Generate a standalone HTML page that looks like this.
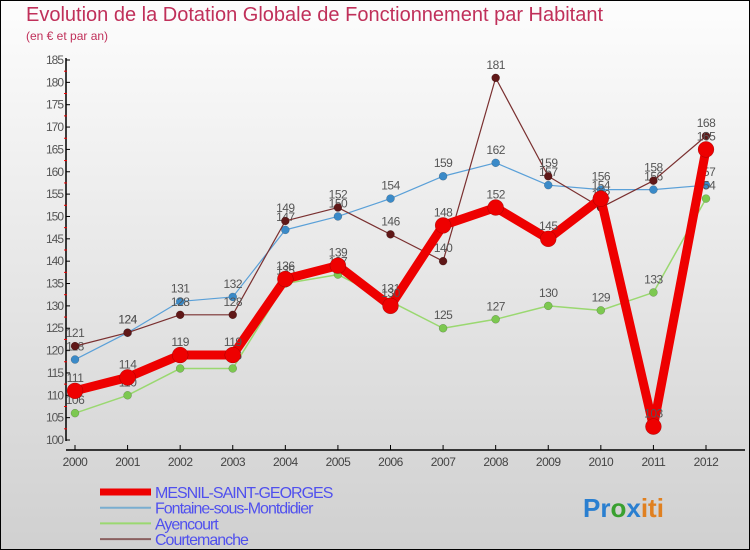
<!DOCTYPE html>
<html><head><meta charset="utf-8"><style>
body{margin:0;width:750px;height:550px;overflow:hidden;font-family:"Liberation Sans",sans-serif}
svg{display:block}
</style></head><body>
<svg width="750" height="550" id="c">
<defs><linearGradient id="bg" x1="0" y1="0" x2="0" y2="1"><stop offset="0" stop-color="#fdfdfd"/><stop offset="1" stop-color="#d0d0d0"/></linearGradient></defs>
<rect x="0.5" y="0.5" width="749" height="549" fill="url(#bg)" stroke="#000"/>
<text x="26" y="21" font-size="20" fill="#c0305a">Evolution de la Dotation Globale de Fonctionnement par Habitant</text>
<text x="26" y="40" font-size="12" fill="#c0305a">(en € et par an)</text>
<g id="axes"></g><g id="series"></g><g id="legend"></g>
<text x="583" y="517" font-size="26" font-weight="bold"><tspan fill="#2a7fd0">Pr</tspan><tspan fill="#3aa030">o</tspan><tspan fill="#2a7fd0">x</tspan><tspan fill="#e08020">iti</tspan></text>
</svg>
<script>
const years=[2000,2001,2002,2003,2004,2005,2006,2007,2008,2009,2010,2011,2012];
const mesnil=[111,114,119,119,136,139,130,148,152,145,154,103,165];
const fontaine=[118,124,131,132,147,150,154,159,162,157,156,156,157];
const ayencourt=[106,110,116,116,135,137,131,125,127,130,129,133,154];
const courtemanche=[121,124,128,128,149,152,146,140,181,159,152,158,168];
const yTicks=[100,105,110,115,120,125,130,135,140,145,150,155,160,165,170,175,180,185];
const names=["MESNIL-SAINT-GEORGES","Fontaine-sous-Montdidier","Ayencourt","Courtemanche"];
const NS="http://www.w3.org/2000/svg";
const x=i=>75+i*(706-75)/12;
const y=v=>440-(v-100)*(380/85);
function mk(t,a,p){const e=document.createElementNS(NS,t);for(const k in a)e.setAttribute(k,a[k]);p.appendChild(e);return e;}
const ax=document.getElementById('axes');
const yl=mk('line',{x1:66,y1:58,x2:66,y2:441,stroke:'#000','stroke-width':1.5},ax);


const xl=mk('line',{x1:66,y1:450,x2:745,y2:450,stroke:'#000','stroke-width':1.5},ax);


yTicks.forEach((v,i)=>{
  mk('line',{x1:66,y1:y(v),x2:70,y2:y(v),stroke:'#000'},ax);
  if(i<yTicks.length-1)mk('line',{x1:64,y1:y(v+2.5),x2:67,y2:y(v+2.5),stroke:'#e00'},ax);
  const t=mk('text',{x:63,y:y(v)+4,'font-size':12,fill:'#555','text-anchor':'end','letter-spacing':'-1'},ax);
  t.textContent=v;
  
  
});
years.forEach((yr,i)=>{
  mk('line',{x1:x(i),y1:445,x2:x(i),y2:450,stroke:'#000'},ax);
  const t=mk('text',{x:x(i),y:466,'font-size':12,fill:'#444','text-anchor':'middle','letter-spacing':'-0.5'},ax);
  t.textContent=yr;
  
  
});
const sg=document.getElementById('series');
const defs=[
 {d:fontaine,c:'#5aa0d8',w:1.2,r:4,f:'#3a8ac8',n:'fontaine'},
 {d:ayencourt,c:'#9ad870',w:1.5,r:4,f:'#7cc850',n:'ayencourt'},
 {d:courtemanche,c:'#7a3030',w:1.2,r:4,f:'#601818',n:'courtemanche'},
 {d:mesnil,c:'#ee0000',w:9,r:8,f:'#ee0000',n:'mesnil'}];
defs.forEach(s=>{
  const g=mk('g',{},sg);
  
  
  const pl=mk('polyline',{points:s.d.map((v,i)=>x(i)+','+y(v)).join(' '),fill:'none',stroke:s.c,'stroke-width':s.w,'stroke-linejoin':'round'},g);
  
  
  s.d.forEach((v,i)=>{
    const c=mk('circle',{cx:x(i),cy:y(v),r:s.r,fill:s.f,stroke:'rgba(0,0,0,0.3)','stroke-width':0.5},g);
    
    
    const t=mk('text',{x:x(i),y:y(v)-9,'font-size':12,fill:'#555','text-anchor':'middle','letter-spacing':'-0.5'},g);
    t.textContent=v;
    
    
  });
});
const lg=document.getElementById('legend');
const lc=['#ee0000','#7aaed0','#9ad870','#8a6060'],lw=[7,2,2,2];
names.forEach((n,i)=>{
  const yy=492+i*15.7;
  const l=mk('line',{x1:100,y1:yy,x2:151,y2:yy,stroke:lc[i],'stroke-width':lw[i]},lg);
  
  
  const t=mk('text',{x:155,y:yy+6,'font-size':16,fill:'#5050ee','letter-spacing':'-1','textLength':0},lg);
  t.removeAttribute('textLength');
  t.textContent=n;
  
  
});
</script>
</body></html>
